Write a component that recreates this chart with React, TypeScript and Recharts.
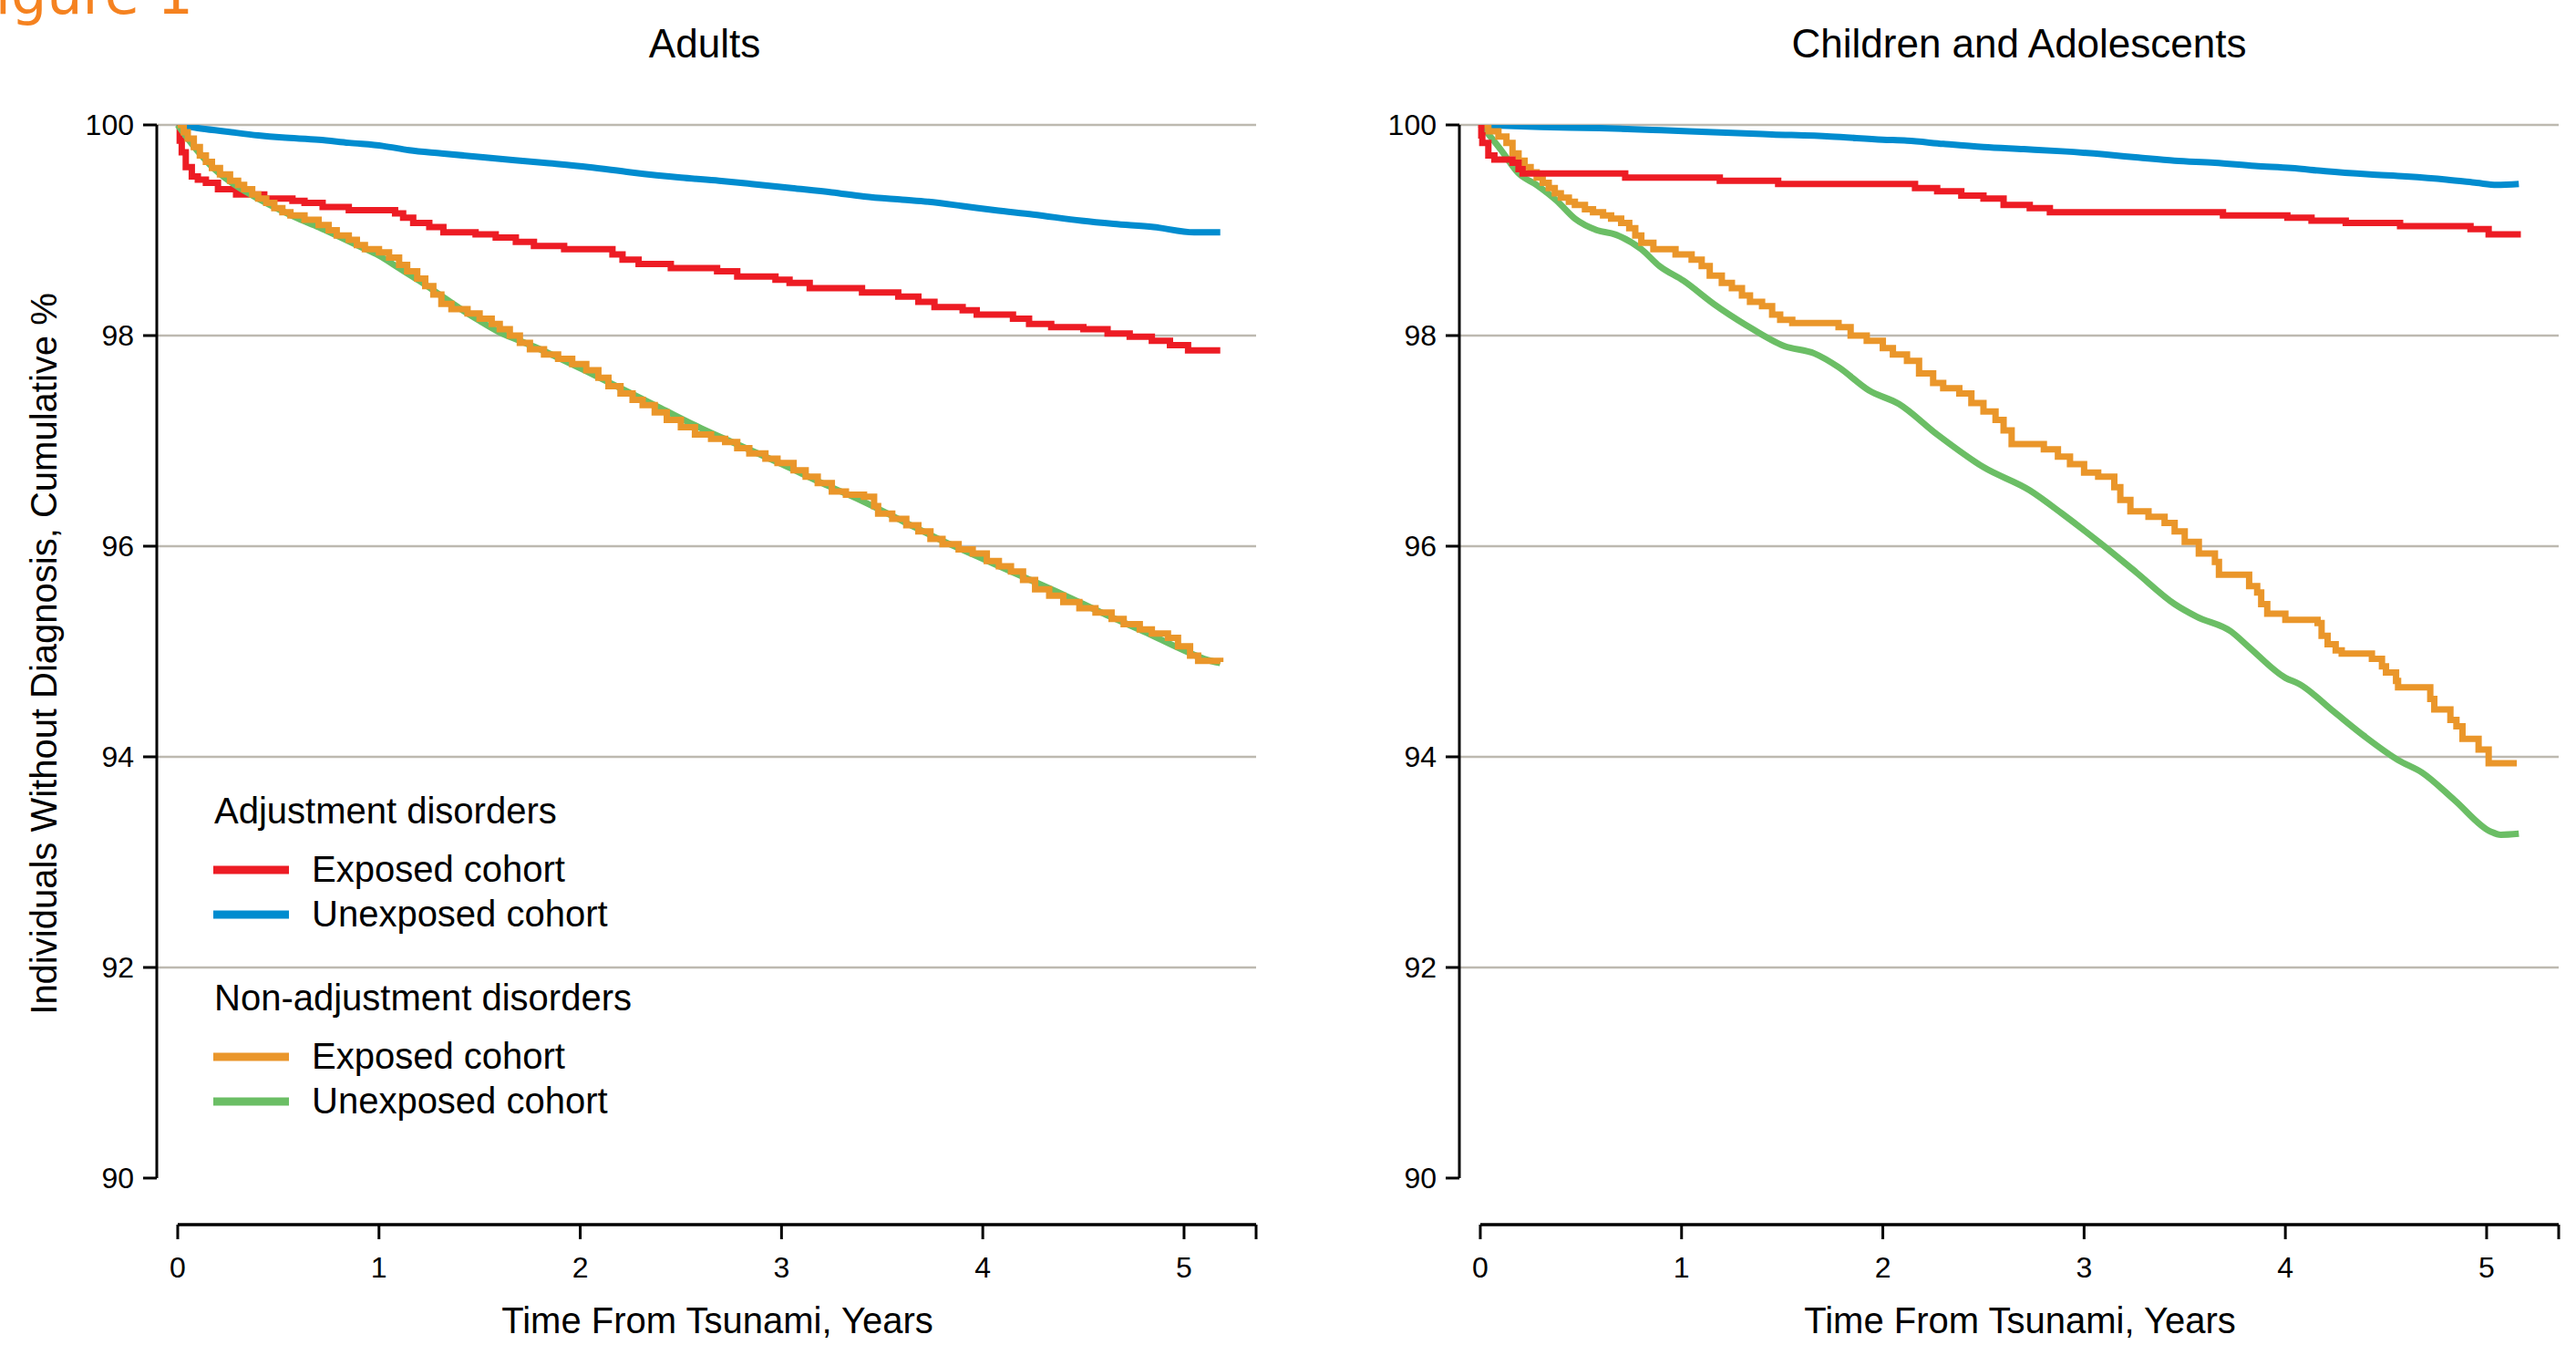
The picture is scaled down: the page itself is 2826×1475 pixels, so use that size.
import React from 'react';
import { LineChart, Line, XAxis, YAxis, ReferenceLine, Legend } from 'recharts';

type Pt = [number, number];

// Adults, adjustment disorders
const adultsExposedAdj: Pt[] = [
  [0, 100], [0.01, 99.85], [0.02, 99.74], [0.04, 99.6], [0.07, 99.51], [0.1, 99.48], [0.14, 99.45],
  [0.2, 99.39], [0.29, 99.34], [0.43, 99.3], [0.57, 99.28], [0.63, 99.26], [0.72, 99.22], [0.85, 99.19],
  [1.08, 99.16], [1.12, 99.12], [1.17, 99.07], [1.25, 99.03], [1.32, 98.98], [1.48, 98.96], [1.58, 98.93],
  [1.68, 98.89], [1.77, 98.85], [1.92, 98.82], [2.16, 98.77], [2.21, 98.72], [2.29, 98.68], [2.45, 98.64],
  [2.68, 98.61], [2.78, 98.56], [2.97, 98.53], [3.04, 98.5], [3.14, 98.45], [3.4, 98.41], [3.58, 98.37],
  [3.68, 98.32], [3.76, 98.27], [3.9, 98.24], [3.97, 98.2], [4.15, 98.16], [4.23, 98.11], [4.34, 98.08],
  [4.5, 98.06], [4.62, 98.02], [4.73, 97.99], [4.84, 97.95], [4.93, 97.91], [5.02, 97.86], [5.18, 97.86],
];
const adultsUnexposedAdj: Pt[] = [
  [0, 100], [0.1, 99.97], [0.23, 99.94], [0.4, 99.9], [0.52, 99.88], [0.7, 99.86], [0.85, 99.83],
  [1.02, 99.8], [1.15, 99.76], [1.31, 99.73], [1.53, 99.69], [1.82, 99.64], [2.04, 99.6], [2.25, 99.55],
  [2.5, 99.5], [2.69, 99.47], [2.85, 99.44], [3.05, 99.4], [3.25, 99.36], [3.41, 99.32], [3.6, 99.29],
  [3.73, 99.27], [3.9, 99.23], [4.06, 99.19], [4.25, 99.15], [4.49, 99.09], [4.65, 99.06], [4.85, 99.03],
  [5.05, 98.98], [5.18, 98.98],
];
// Adults, non-adjustment disorders
const adultsExposedNonAdj: Pt[] = [
  [0, 100], [0.03, 99.93], [0.05, 99.87], [0.08, 99.79], [0.11, 99.71], [0.14, 99.65], [0.17, 99.59],
  [0.21, 99.53], [0.26, 99.47], [0.3, 99.43], [0.33, 99.39], [0.37, 99.34], [0.4, 99.3], [0.44, 99.26],
  [0.48, 99.21], [0.52, 99.17], [0.56, 99.14], [0.63, 99.1], [0.7, 99.05], [0.75, 99.0], [0.79, 98.95],
  [0.85, 98.91], [0.89, 98.86], [0.93, 98.82], [1.0, 98.79], [1.05, 98.74], [1.1, 98.67], [1.14, 98.61],
  [1.19, 98.54], [1.23, 98.47], [1.27, 98.39], [1.31, 98.3], [1.36, 98.25], [1.44, 98.21], [1.5, 98.16],
  [1.56, 98.11], [1.6, 98.06], [1.65, 98.0], [1.7, 97.93], [1.75, 97.87], [1.82, 97.82], [1.89, 97.78],
  [1.96, 97.73], [2.03, 97.67], [2.09, 97.6], [2.14, 97.52], [2.2, 97.45], [2.26, 97.39], [2.31, 97.34],
  [2.37, 97.27], [2.43, 97.2], [2.5, 97.13], [2.57, 97.06], [2.65, 97.02], [2.72, 96.99], [2.78, 96.93],
  [2.84, 96.88], [2.92, 96.83], [2.98, 96.79], [3.06, 96.72], [3.12, 96.66], [3.18, 96.6], [3.25, 96.52],
  [3.32, 96.49], [3.41, 96.47], [3.46, 96.38], [3.48, 96.31], [3.55, 96.26], [3.62, 96.2], [3.68, 96.14],
  [3.74, 96.07], [3.8, 96.02], [3.88, 95.97], [3.95, 95.93], [4.02, 95.86], [4.08, 95.81], [4.14, 95.76],
  [4.2, 95.68], [4.26, 95.59], [4.33, 95.53], [4.4, 95.47], [4.48, 95.41], [4.56, 95.37], [4.64, 95.31],
  [4.7, 95.26], [4.78, 95.21], [4.84, 95.17], [4.92, 95.13], [4.97, 95.05], [5.03, 94.96], [5.07, 94.91],
  [5.18, 94.9],
];
const adultsUnexposedNonAdj: Pt[] = [
  [0, 100], [0.05, 99.87], [0.1, 99.75], [0.2, 99.55], [0.3, 99.41], [0.4, 99.3], [0.5, 99.2],
  [0.6, 99.11], [0.7, 99.03], [0.8, 98.94], [0.9, 98.85], [1.0, 98.76], [1.1, 98.64], [1.2, 98.52],
  [1.3, 98.39], [1.4, 98.26], [1.5, 98.14], [1.6, 98.03], [1.7, 97.95], [1.8, 97.87], [1.9, 97.78],
  [2.0, 97.69], [2.2, 97.5], [2.4, 97.31], [2.6, 97.12], [2.8, 96.95], [3.0, 96.78], [3.2, 96.6],
  [3.4, 96.43], [3.6, 96.24], [3.8, 96.05], [4.0, 95.88], [4.2, 95.71], [4.4, 95.54], [4.6, 95.36],
  [4.8, 95.19], [5.0, 95.01], [5.1, 94.93], [5.18, 94.89],
];

// Children and adolescents, adjustment disorders
const childExposedAdj: Pt[] = [
  [0, 100], [0.005, 99.9], [0.01, 99.83], [0.04, 99.71], [0.07, 99.67], [0.16, 99.64], [0.19, 99.58],
  [0.21, 99.54], [0.72, 99.5], [1.19, 99.47], [1.48, 99.44], [2.16, 99.4], [2.27, 99.37], [2.39, 99.33],
  [2.5, 99.3], [2.6, 99.24], [2.73, 99.21], [2.83, 99.17], [3.69, 99.14], [4.01, 99.12], [4.13, 99.09],
  [4.3, 99.07], [4.57, 99.04], [4.92, 99.01], [5.01, 98.96], [5.17, 98.96],
];
const childUnexposedAdj: Pt[] = [
  [0, 100], [0.3, 99.98], [0.59, 99.97], [0.9, 99.95], [1.16, 99.93], [1.45, 99.91], [1.74, 99.89],
  [2.0, 99.86], [2.12, 99.85], [2.3, 99.82], [2.5, 99.79], [2.7, 99.77], [2.89, 99.75], [3.1, 99.72],
  [3.27, 99.69], [3.45, 99.66], [3.65, 99.64], [3.85, 99.61], [4.03, 99.59], [4.2, 99.56], [4.42, 99.53],
  [4.6, 99.51], [4.8, 99.48], [4.95, 99.45], [5.05, 99.43], [5.16, 99.44],
];
// Children and adolescents, non-adjustment disorders
const childExposedNonAdj: Pt[] = [
  [0, 100], [0.04, 99.94], [0.09, 99.89], [0.13, 99.83], [0.16, 99.73], [0.19, 99.66], [0.22, 99.6],
  [0.25, 99.55], [0.28, 99.5], [0.31, 99.45], [0.34, 99.4], [0.37, 99.35], [0.4, 99.31], [0.44, 99.27],
  [0.47, 99.24], [0.52, 99.2], [0.56, 99.17], [0.61, 99.14], [0.65, 99.11], [0.7, 99.07], [0.74, 99.02],
  [0.77, 98.95], [0.8, 98.88], [0.86, 98.82], [0.97, 98.77], [1.05, 98.72], [1.1, 98.66], [1.14, 98.57],
  [1.2, 98.5], [1.25, 98.45], [1.3, 98.38], [1.34, 98.32], [1.4, 98.28], [1.45, 98.2], [1.49, 98.15],
  [1.55, 98.12], [1.78, 98.08], [1.84, 98.0], [1.92, 97.95], [2.0, 97.88], [2.05, 97.82], [2.12, 97.76],
  [2.18, 97.64], [2.25, 97.55], [2.3, 97.5], [2.38, 97.45], [2.44, 97.36], [2.5, 97.28], [2.56, 97.2],
  [2.6, 97.1], [2.64, 96.97], [2.8, 96.92], [2.87, 96.85], [2.93, 96.78], [3.0, 96.7], [3.07, 96.66],
  [3.15, 96.56], [3.18, 96.44], [3.23, 96.33], [3.32, 96.28], [3.4, 96.22], [3.45, 96.14], [3.5, 96.04],
  [3.57, 95.93], [3.65, 95.85], [3.67, 95.73], [3.82, 95.62], [3.86, 95.56], [3.88, 95.45], [3.91, 95.36],
  [4.0, 95.3], [4.16, 95.27], [4.18, 95.15], [4.21, 95.07], [4.25, 95.01], [4.28, 94.98], [4.43, 94.93],
  [4.48, 94.86], [4.5, 94.8], [4.55, 94.72], [4.56, 94.66], [4.72, 94.55], [4.74, 94.45], [4.82, 94.35],
  [4.85, 94.29], [4.88, 94.17], [4.96, 94.07], [5.01, 93.94], [5.15, 93.94],
];
const childUnexposedNonAdj: Pt[] = [
  [0, 100], [0.05, 99.89], [0.1, 99.77], [0.19, 99.54], [0.28, 99.43], [0.38, 99.28], [0.47, 99.11],
  [0.58, 99.0], [0.67, 98.96], [0.8, 98.82], [0.89, 98.66], [1.01, 98.52], [1.16, 98.3], [1.32, 98.1],
  [1.51, 97.9], [1.66, 97.83], [1.78, 97.7], [1.93, 97.48], [2.08, 97.35], [2.27, 97.06], [2.5, 96.75],
  [2.73, 96.53], [2.89, 96.31], [3.08, 96.03], [3.26, 95.75], [3.45, 95.45], [3.56, 95.33], [3.73, 95.19],
  [3.82, 95.04], [4.0, 94.75], [4.07, 94.69], [4.24, 94.43], [4.39, 94.2], [4.56, 93.97], [4.68, 93.85],
  [4.84, 93.59], [5.02, 93.29], [5.07, 93.26], [5.16, 93.27],
];

const xTicks = [0, 1, 2, 3, 4, 5, 5.358];
const yTicks = [90, 92, 94, 96, 98, 100];
const gridValues = [92, 94, 96, 98, 100];

const X_MIN = -0.104;
const X_MAX = 5.358;
const Y_MIN = 89.558;

const RED = '#ED1C24';
const BLUE = '#008CCF';
const ORANGE = '#EA962A';
const GREEN = '#6BBE65';
const GRID = '#BDB9B0';
const FONT = "'Liberation Sans', Arial, Helvetica, sans-serif";

const legendGroups = [
  {
    title: 'Adjustment disorders',
    items: [
      { label: 'Exposed cohort', color: RED },
      { label: 'Unexposed cohort', color: BLUE },
    ],
  },
  {
    title: 'Non-adjustment disorders',
    items: [
      { label: 'Exposed cohort', color: ORANGE },
      { label: 'Unexposed cohort', color: GREEN },
    ],
  },
];

interface Series {
  key: string;
  points: Pt[];
  color: string;
  step: boolean;
}

const adultsSeries: Series[] = [
  { key: 'ua', points: adultsUnexposedAdj, color: BLUE, step: false },
  { key: 'ea', points: adultsExposedAdj, color: RED, step: true },
  { key: 'un', points: adultsUnexposedNonAdj, color: GREEN, step: false },
  { key: 'en', points: adultsExposedNonAdj, color: ORANGE, step: true },
];

const childSeries: Series[] = [
  { key: 'ua', points: childUnexposedAdj, color: BLUE, step: false },
  { key: 'un', points: childUnexposedNonAdj, color: GREEN, step: false },
  { key: 'en', points: childExposedNonAdj, color: ORANGE, step: true },
  { key: 'ea', points: childExposedAdj, color: RED, step: true },
];

const toRows = (pts: Pt[]) => pts.map(([x, y]) => ({ x, y }));

const LegendBox = () => (
  <svg width={520} height={380} style={{ overflow: 'visible' }}>
    {legendGroups.map((g, gi) => {
      const top = 53 + gi * 205;
      return (
        <g key={g.title}>
          <text x={15} y={top} fontSize={40} fill="#000">{g.title}</text>
          {g.items.map((it, i) => {
            const cy = top + 51 + i * 49;
            return (
              <g key={it.label + i}>
                <line x1={14} x2={97} y1={cy} y2={cy} stroke={it.color} strokeWidth={9} />
                <text x={122} y={cy + 13} fontSize={40} fill="#000">{it.label}</text>
              </g>
            );
          })}
        </g>
      );
    })}
  </svg>
);

const Panel = ({ series, width, left, right, legend }: { series: Series[]; width: number; left: number; right: number; legend?: boolean }) => (
  <LineChart width={width} height={1475} margin={{ top: 137, right, bottom: 0, left }}>
    {gridValues.map(v => (
      <ReferenceLine key={v} y={v} stroke={GRID} strokeWidth={2.5} />
    ))}
    <XAxis
      type="number"
      dataKey="x"
      domain={[X_MIN, X_MAX]}
      ticks={xTicks}
      interval={0}
      allowDataOverflow
      height={132}
      axisLine={false}
      tickSize={16}
      tickMargin={19}
      tickLine={{ stroke: '#000', strokeWidth: 3 }}
      tick={{ fontSize: 32, fill: '#000' }}
      tickFormatter={(v: number) => (v === X_MAX ? '' : String(v))}
      label={{ value: 'Time From Tsunami, Years', position: 'insideBottom', offset: 13, dx: 12, fontSize: 40, fill: '#000' }}
    />
    <YAxis
      type="number"
      domain={[Y_MIN, 100]}
      ticks={yTicks}
      interval={0}
      allowDataOverflow
      width={120}
      axisLine={false}
      tickSize={15}
      tickMargin={10}
      tickLine={{ stroke: '#000', strokeWidth: 3 }}
      tick={{ fontSize: 32, fill: '#000' }}
    />
    <ReferenceLine segment={[{ x: X_MIN, y: 90 }, { x: X_MIN, y: 100 }]} stroke="#000" strokeWidth={3} />
    <ReferenceLine segment={[{ x: 0, y: Y_MIN }, { x: X_MAX, y: Y_MIN }]} stroke="#000" strokeWidth={3.5} />
    {series.map(s => (
      <Line
        key={s.key}
        data={toRows(s.points)}
        dataKey="y"
        type={s.step ? 'stepAfter' : 'monotone'}
        stroke={s.color}
        strokeWidth={7}
        dot={false}
        activeDot={false}
        isAnimationActive={false}
      />
    ))}
    {legend && (
      <Legend
        layout="horizontal"
        verticalAlign="middle"
        align="center"
        wrapperStyle={{ left: 220, top: 850, width: 520, height: 380 }}
        content={() => <LegendBox />}
      />
    )}
  </LineChart>
);

export default function App() {
  return (
    <div style={{ position: 'absolute', left: 0, top: 0, width: 2826, height: 1475, background: '#fff', fontFamily: FONT, overflow: 'hidden' }}>
      <svg width={2826} height={1475} style={{ position: 'absolute', left: 0, top: 0 }}>
        <text x={212} y={15} textAnchor="end" fontSize={62} fill="#F58220" fontFamily="'DejaVu Sans', sans-serif">Figure 1</text>
        <text x={773} y={63} textAnchor="middle" fontSize={44} fill="#000">Adults</text>
        <text x={2215} y={63} textAnchor="middle" fontSize={44} fill="#000">Children and Adolescents</text>
        <text x={62} y={717} textAnchor="middle" fontSize={40} fill="#000" transform="rotate(-90 62 717)">
          Individuals Without Diagnosis, Cumulative %
        </text>
      </svg>
      <div style={{ position: 'absolute', left: 0, top: 0 }}>
        <Panel series={adultsSeries} width={1410} left={52} right={32} legend />
      </div>
      <div style={{ position: 'absolute', left: 1420, top: 0 }}>
        <Panel series={childSeries} width={1406} left={61} right={19} />
      </div>
    </div>
  );
}
